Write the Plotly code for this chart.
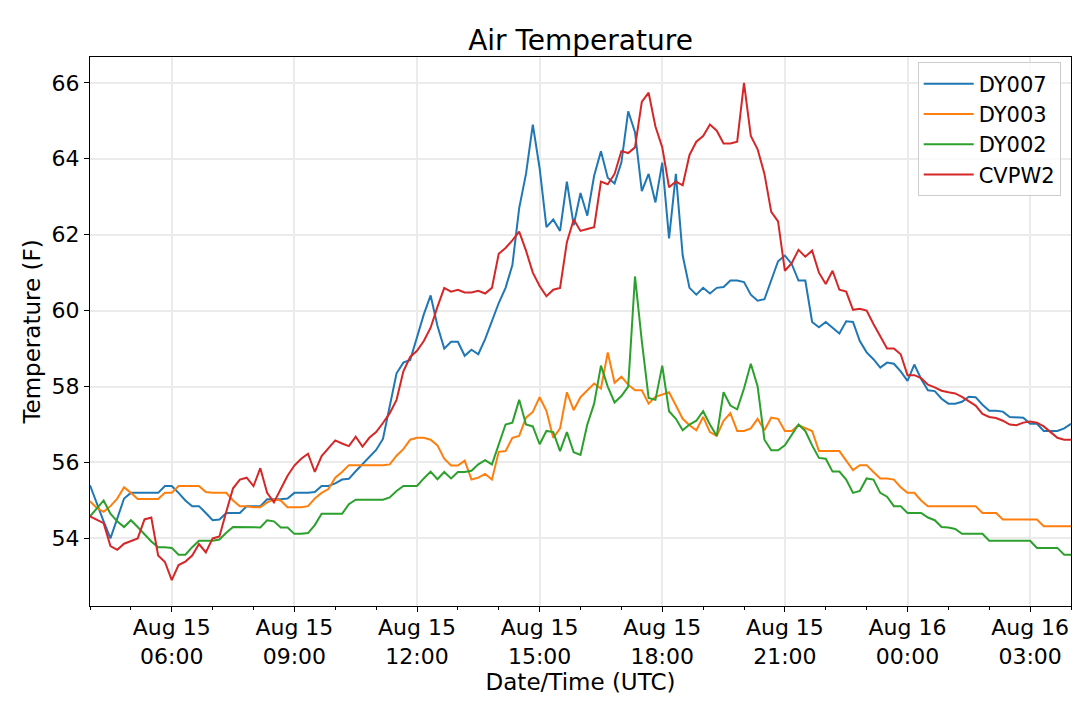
import pandas as pd
import plotly.graph_objects as go

# 10-minute samples from 2019-08-15 04:00 to 2019-08-16 04:00 (UTC)
start_time = "2019-08-15 04:00"
end_time = "2019-08-16 04:00"
times = pd.date_range(start_time, end_time, freq="10min")

dy007 = [
    55.4, 54.9, 54.45, 54.0, 54.55, 55.05, 55.2, 55.2, 55.2, 55.2, 55.2, 55.38,
    55.38, 55.2, 55.0, 54.85, 54.85, 54.67, 54.48, 54.5, 54.67, 54.67, 54.67, 54.85,
    54.85, 54.85, 55.03, 55.03, 55.03, 55.05, 55.2, 55.2, 55.2, 55.22, 55.38, 55.38,
    55.45, 55.55, 55.57, 55.77, 55.95, 56.14, 56.33, 56.62, 57.5, 58.35, 58.63, 58.7,
    59.3, 59.9, 60.4, 59.6, 59.0, 59.18, 59.18, 58.81, 58.97, 58.85, 59.25, 59.74,
    60.2, 60.6, 61.2, 62.7, 63.6, 64.9, 63.75, 62.2, 62.4, 62.1, 63.4, 62.25,
    63.1, 62.5, 63.55, 64.2, 63.5, 63.35, 63.9, 65.25, 64.7, 63.15, 63.6, 62.85,
    63.9, 61.9, 63.6, 61.45, 60.6, 60.42, 60.6, 60.45, 60.6, 60.62, 60.79, 60.79,
    60.75, 60.42, 60.26, 60.3, 60.82, 61.3, 61.45, 61.23, 60.79, 60.79, 59.7, 59.56,
    59.7, 59.54, 59.4, 59.72, 59.7, 59.2, 58.9, 58.72, 58.5, 58.63, 58.6, 58.4,
    58.15, 58.58, 58.2, 57.9, 57.88, 57.68, 57.55, 57.55, 57.6, 57.73, 57.72, 57.52,
    57.36, 57.36, 57.34, 57.2, 57.18, 57.18, 57.02, 57.02, 56.83, 56.83, 56.83, 56.9,
    57.02,
]

dy003 = [
    54.98, 54.8, 54.7, 54.85, 55.05, 55.35, 55.2, 55.04, 55.04, 55.04, 55.04, 55.2,
    55.2, 55.38, 55.38, 55.38, 55.38, 55.22, 55.2, 55.2, 55.2, 55.0, 54.85, 54.85,
    54.82, 54.82, 54.95, 55.03, 55.0, 54.82, 54.82, 54.82, 54.85, 55.05, 55.2, 55.3,
    55.6, 55.75, 55.93, 55.93, 55.93, 55.93, 55.93, 55.93, 55.95, 56.18, 56.35, 56.6,
    56.65, 56.65, 56.6, 56.45, 56.1, 55.92, 55.92, 56.05, 55.55, 55.6, 55.7, 55.55,
    56.28, 56.3, 56.65, 56.7, 57.18, 57.33, 57.72, 57.36, 56.65, 56.9, 57.85, 57.38,
    57.72, 57.9, 58.08, 57.95, 58.9, 58.1, 58.26, 58.05, 57.9, 57.9, 57.55, 57.73,
    57.78, 57.85, 57.5, 57.15, 56.98, 56.85, 57.2, 56.8, 56.7, 57.1, 57.3, 56.83,
    56.83, 56.9, 57.15, 56.85, 57.18, 57.15, 56.83, 56.83, 56.98, 56.9, 56.83, 56.3,
    56.3, 56.3, 56.3, 56.05, 55.8, 55.93, 55.93, 55.75, 55.58, 55.58, 55.55, 55.35,
    55.2, 55.2, 55.0, 54.85, 54.85, 54.85, 54.85, 54.85, 54.85, 54.85, 54.85, 54.67,
    54.67, 54.67, 54.5, 54.5, 54.5, 54.5, 54.5, 54.5, 54.32, 54.32, 54.32, 54.32,
    54.32,
]

dy002 = [
    54.58, 54.8, 55.0, 54.65, 54.45, 54.3, 54.48, 54.3, 54.1, 53.92, 53.77, 53.77,
    53.75, 53.57, 53.57, 53.77, 53.94, 53.94, 53.94, 53.97, 54.15, 54.3, 54.3, 54.3,
    54.3, 54.29, 54.48, 54.45, 54.29, 54.29, 54.12, 54.12, 54.14, 54.35, 54.65, 54.65,
    54.65, 54.65, 54.9, 55.02, 55.02, 55.02, 55.02, 55.02, 55.08, 55.25, 55.38, 55.38,
    55.38, 55.58, 55.76, 55.56, 55.75, 55.58, 55.75, 55.75, 55.78, 55.95, 56.06, 55.95,
    56.5, 57.0, 57.05, 57.65, 57.0, 56.95, 56.48, 56.83, 56.8, 56.3, 56.8, 56.27,
    56.2, 57.0, 57.55, 58.55, 58.0, 57.58, 57.75, 58.0, 60.9, 59.2, 57.7, 57.65,
    58.55, 57.35, 57.15, 56.85, 57.0, 57.1, 57.35, 57.0, 56.7, 57.85, 57.5, 57.4,
    57.95, 58.6, 58.0, 56.6, 56.32, 56.32, 56.45, 56.73, 57.0, 56.83, 56.45, 56.12,
    56.1, 55.76, 55.76, 55.55, 55.2, 55.25, 55.58, 55.55, 55.2, 55.1, 54.85, 54.85,
    54.67, 54.67, 54.67, 54.55, 54.48, 54.3, 54.29, 54.25, 54.12, 54.12, 54.12, 54.12,
    53.94, 53.94, 53.94, 53.94, 53.94, 53.94, 53.94, 53.75, 53.75, 53.75, 53.75, 53.57,
    53.57,
]

cvpw2 = [
    54.58, 54.5, 54.4, 53.8, 53.7, 53.86, 53.93, 54.0, 54.5, 54.55, 53.55, 53.38,
    52.9, 53.3, 53.39, 53.55, 53.85, 53.63, 54.0, 54.05, 54.7, 55.32, 55.55, 55.6,
    55.38, 55.85, 55.2, 54.95, 55.3, 55.65, 55.92, 56.1, 56.23, 55.75, 56.17, 56.38,
    56.58, 56.5, 56.43, 56.68, 56.42, 56.65, 56.8, 57.04, 57.3, 57.65, 58.4, 58.78,
    58.94, 59.2, 59.55, 60.1, 60.6, 60.5, 60.55, 60.48, 60.48, 60.52, 60.45, 60.6,
    61.5, 61.65, 61.85, 62.08, 61.58, 61.0, 60.65, 60.38, 60.55, 60.6, 61.8, 62.4,
    62.1, 62.15, 62.2, 63.4, 63.33, 63.6, 64.2, 64.15, 64.3, 65.5, 65.74, 64.85,
    64.3, 63.25, 63.4, 63.3, 64.1, 64.45, 64.6, 64.9, 64.74, 64.4, 64.4, 64.45,
    66.0, 64.6, 64.25, 63.6, 62.6, 62.35, 61.05, 61.25, 61.6, 61.42, 61.58, 61.0,
    60.7, 61.05, 60.55, 60.5, 60.02, 60.05, 60.0, 59.65, 59.33, 59.0, 59.0, 58.85,
    58.3, 58.3, 58.22, 58.05, 57.98, 57.89, 57.85, 57.82, 57.73, 57.62, 57.5, 57.28,
    57.2, 57.17, 57.1, 57.0, 56.98, 57.05, 57.08, 57.05, 56.95, 56.8, 56.65, 56.6,
    56.6,
]

series_names = ["DY007", "DY003", "DY002", "CVPW2"]
series_values = [dy007, dy003, dy002, cvpw2]
series_colors = ["#1f77b4", "#ff7f0e", "#2ca02c", "#d62728"]

y_ticks = [54, 56, 58, 60, 62, 64, 66]

FONT = "DejaVu Sans"

fig = go.Figure()
for name, vals, col in zip(series_names, series_values, series_colors):
    fig.add_trace(go.Scatter(
        x=times, y=vals, mode="lines", name=name,
        line=dict(color=col, width=2),
    ))

fig.update_layout(
    width=1080, height=701,
    margin=dict(l=90, r=9, t=57, b=95),
    paper_bgcolor="white", plot_bgcolor="white",
    font=dict(family=FONT, size=22, color="black"),
    title=dict(text="Air Temperature", x=0.5, xref="paper", xanchor="center",
               y=1 - 40 / 701, yref="container", yanchor="middle",
               font=dict(family=FONT, size=28, color="black")),
    showlegend=True,
    legend=dict(x=0.9895, y=0.99, xanchor="right", yanchor="top",
                bgcolor="rgba(255,255,255,0.8)", bordercolor="#cccccc",
                borderwidth=1, itemwidth=50,
                font=dict(family=FONT, size=21, color="black")),
)

fig.update_xaxes(
    range=[start_time, end_time],
    tickmode="linear", tick0="2019-08-15 06:00", dtick=3 * 3600000,
    tickformat="%b %d<br>%H:%M",
    ticks="outside", ticklen=5, tickwidth=1, tickcolor="black",
    ticklabelstandoff=-3,
    showline=True, linecolor="black", linewidth=1, mirror=True,
    showgrid=True, gridcolor="#ebebeb", gridwidth=1.5,
    zeroline=False,
    minor=dict(tick0="2019-08-15 04:00", dtick=3600000, ticks="outside",
               ticklen=3, tickcolor="black", showgrid=False),
    title=dict(text="Date/Time (UTC)", standoff=0,
               font=dict(family=FONT, size=23, color="black")),
    tickfont=dict(family=FONT, size=22, color="black"),
)

fig.update_yaxes(
    range=[52.22, 66.68],
    tickmode="array", tickvals=y_ticks, ticktext=[str(v) for v in y_ticks],
    ticks="outside", ticklen=5, tickwidth=1, tickcolor="black",
    showline=True, linecolor="black", linewidth=1, mirror=True,
    showgrid=True, gridcolor="#ebebeb", gridwidth=1.5,
    zeroline=False,
    title=dict(text="Temperature (F)", standoff=4,
               font=dict(family=FONT, size=23, color="black")),
    tickfont=dict(family=FONT, size=22, color="black"),
)

fig.write_html("out.html", config={"displayModeBar": False},
               post_script="document.body.style.margin='0';")
